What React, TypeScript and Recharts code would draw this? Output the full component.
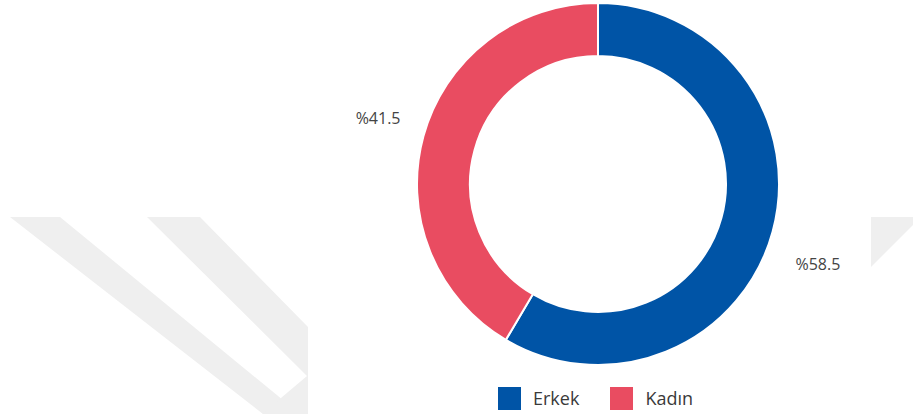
import React from 'react'
import { PieChart, Pie, Cell, Legend } from 'recharts'

const categories = ['Erkek', 'Kadın']
const shares = [58.5, 41.5]
const colors = ['#0054A6', '#E94C61']

const data = categories.map((name, i) => ({ name, value: shares[i] }))

const FONT = '"Open Sans", "Noto Sans", sans-serif'
const RAD = Math.PI / 180

// faint watermark stripes behind the chart box
const Watermark = () => (
  <svg width={913} height={414} style={{ position: 'absolute', left: 0, top: 0 }}>
    <polygon points="10,217 60,217 300,414 263,414" fill="#efefef" />
    <polygon points="147,217 200,217 308,327 308,414 262,414 307,376" fill="#efefef" />
    <polygon points="871,217 913,217 913,225 871,267" fill="#efefef" />
  </svg>
)

const renderLabel = (props: any) => {
  const { cx, cy, midAngle, outerRadius, value } = props
  const r = outerRadius + 47
  const x = cx + r * Math.cos(-midAngle * RAD)
  let y = cy + r * Math.sin(-midAngle * RAD)
  y += y > cy ? 20 : -6
  return (
    <text x={x} y={y} textAnchor="middle" dominantBaseline="central" fill="#444" fontSize={16} fontFamily={FONT}>
      {'%' + value.toFixed(1)}
    </text>
  )
}

const renderLegend = () => (
  <div style={{ display: 'flex', alignItems: 'center', fontFamily: FONT, fontSize: 18, color: '#3a3a3a' }}>
    {categories.map((c, i) => (
      <div key={c} style={{ display: 'flex', alignItems: 'center', marginRight: 31 }}>
        <span style={{ width: 23, height: 23, background: colors[i], display: 'inline-block', marginRight: 12 }} />
        <span>{c}</span>
      </div>
    ))}
  </div>
)

export default function App() {
  return (
    <div style={{ position: 'absolute', left: 0, top: 0, width: 913, height: 414, background: '#fff', overflow: 'hidden' }}>
      <Watermark />
      <div style={{ position: 'absolute', left: 0, top: 0 }}>
        <PieChart width={913} height={414} margin={{ top: 0, right: 0, bottom: 0, left: 0 }}>
          <Pie
            data={data}
            dataKey="value"
            nameKey="name"
            cx={598}
            cy={184}
            innerRadius={128}
            outerRadius={181}
            startAngle={90}
            endAngle={-270}
            stroke="#fff"
            strokeWidth={2}
            label={renderLabel}
            labelLine={false}
            isAnimationActive={false}
          >
            {data.map((d, i) => (
              <Cell key={d.name} fill={colors[i]} />
            ))}
          </Pie>
          <Legend
            content={renderLegend}
            wrapperStyle={{ position: 'absolute', left: 498, top: 386, width: 'auto' }}
          />
        </PieChart>
      </div>
    </div>
  )
}
